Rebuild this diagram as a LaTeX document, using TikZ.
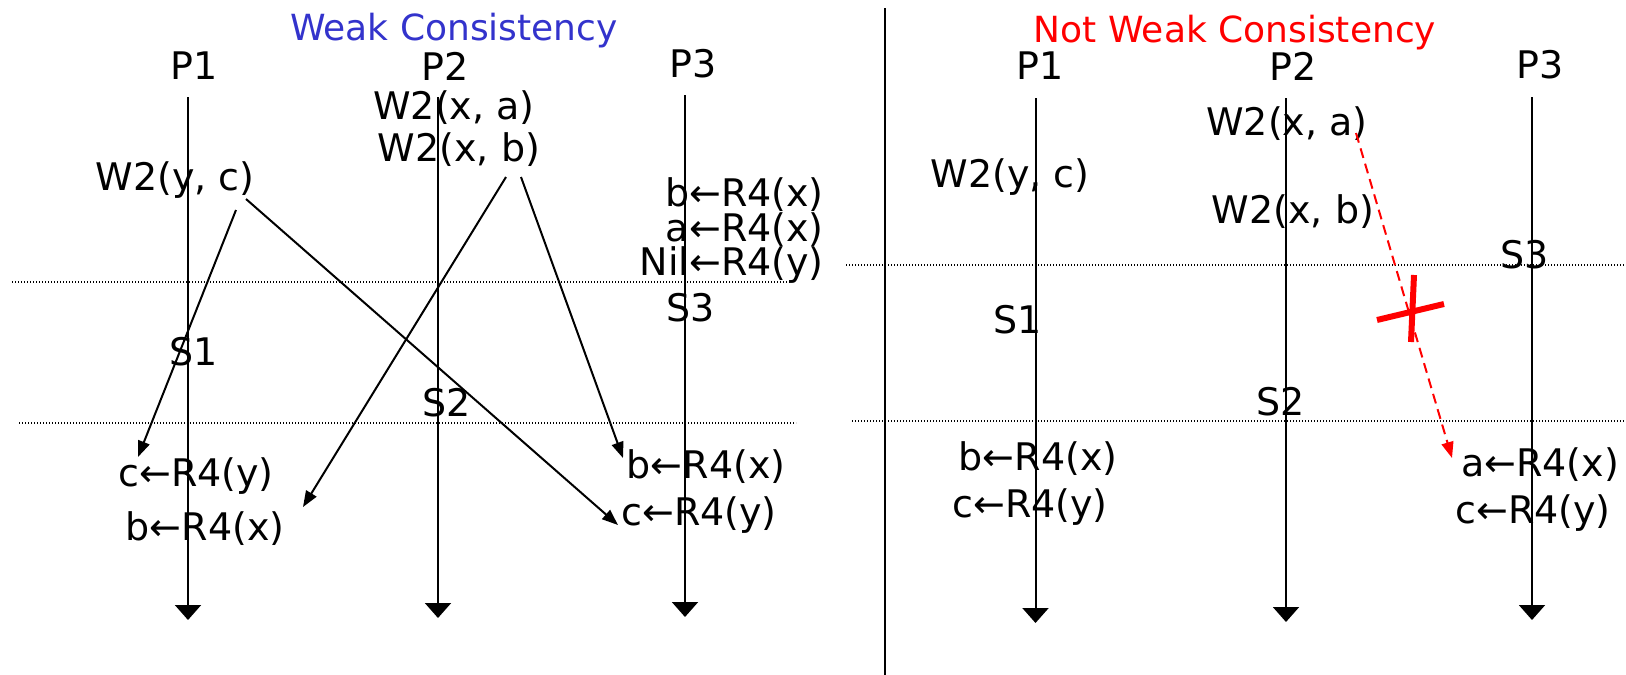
\documentclass[tikz,border=0pt]{standalone}
\usepackage{fontspec}
\setmainfont{DejaVu Sans}
\usetikzlibrary{arrows.meta}
\definecolor{ttlblue}{RGB}{51,51,204}
\begin{document}
\begin{tikzpicture}[x=1pt,y=-1pt,
  lbl/.style={inner sep=0pt, font=\fontsize{38}{40}\selectfont},
  stack/.style={inner sep=0pt, align=right, font=\fontsize{38}{33}\selectfont},
  ttl/.style={inner sep=0pt, font=\fontsize{36}{40}\selectfont},
  proc/.style={line width=2pt, -{Triangle[width=26pt,length=15pt]}},
  msg/.style={line width=2pt, -{Triangle[width=12pt,length=16pt]}},
  badmsg/.style={line width=2pt, red, dash pattern=on 10pt off 6pt, -{Triangle[width=12pt,length=16pt]}},
  sync/.style={line width=1.2pt, dash pattern=on 1.2pt off 1.8pt},
  cross/.style={line width=6pt, red},
  sep/.style={line width=1.5pt}]
\useasboundingbox (0,0) rectangle (1626,675);

% ---------- left panel ----------
\node[ttl, text=ttlblue] (t1) at (454,31) {Weak Consistency};
\node[lbl] (p1a) at (194,66) {P1};
\node[lbl] (p2a) at (445,66) {P2};
\node[lbl] (p3a) at (693,64) {P3};
\coordinate (l1top) at (188,97);  \coordinate (l1bot) at (188,620);
\coordinate (l2top) at (438,97);  \coordinate (l2bot) at (438,618);
\coordinate (l3top) at (685,95);  \coordinate (l3bot) at (685,617);
\draw[proc] (l1top) -- (l1bot);
\draw[proc] (l2top) -- (l2bot);
\draw[proc] (l3top) -- (l3bot);

\coordinate (d1a) at (12,282);  \coordinate (d1b) at (790,282);
\coordinate (d2a) at (19,423);  \coordinate (d2b) at (796,423);
\draw[sync] (d1a) -- (d1b);
\draw[sync] (d2a) -- (d2b);

\node[lbl] (wxa) at (454,108) {W2(x, a)};
\node[lbl] (wxb) at (459,150) {W2(x, b)};
\node[lbl] (wyc) at (175,180) {W2(y, c)};
\node[stack, anchor=south east] (reads3) at (824,284) {b←R4(x)\\a←R4(x)\\Nil←R4(y)};
\node[lbl] (s3a) at (691,308) {S3};
\node[lbl] (s1a) at (194,352) {S1};
\node[lbl] (s2a) at (447,403) {S2};
\node[lbl] (rc1) at (196,476) {c←R4(y)};
\node[lbl] (rb1) at (205,529) {b←R4(x)};
\node[lbl] (rb3b) at (706,467) {b←R4(x)};
\node[lbl] (rc3) at (699,515) {c←R4(y)};

\draw[msg] ([shift={(61,30)}]wyc.center) -- ([shift={(-58,-19)}]rc1.center);
\draw[msg] ([shift={(71,19)}]wyc.center) -- ([shift={(-81,10)}]rc3.center);
\draw[msg] ([shift={(47,27)}]wxb.center) -- ([shift={(98,-22)}]rb1.center);
\draw[msg] ([shift={(62,27)}]wxb.center) -- ([shift={(-83,-9)}]rb3b.center);

% ---------- separator ----------
\coordinate (septop) at (885,8); \coordinate (sepbot) at (885,675);
\draw[sep] (septop) -- (sepbot);

% ---------- right panel ----------
\node[ttl, text=red] (t2) at (1235,33) {Not Weak Consistency};
\node[lbl] (p1b) at (1040,66) {P1};
\node[lbl] (p2b) at (1293,66) {P2};
\node[lbl] (p3b) at (1540,65) {P3};
\coordinate (m1top) at (1035.5,98); \coordinate (m1bot) at (1035.5,623);
\coordinate (m2top) at (1286,98);   \coordinate (m2bot) at (1286,622);
\coordinate (m3top) at (1532,97);   \coordinate (m3bot) at (1532,620);
\draw[proc] (m1top) -- (m1bot);
\draw[proc] (m2top) -- (m2bot);
\draw[proc] (m3top) -- (m3bot);

\coordinate (e1a) at (846,265);  \coordinate (e1b) at (1626,265);
\coordinate (e2a) at (852,421);  \coordinate (e2b) at (1626,421);
\draw[sync] (e1a) -- (e1b);
\draw[sync] (e2a) -- (e2b);

\node[lbl] (wxa2) at (1287,124) {W2(x, a)};
\node[lbl] (wyc2) at (1010,177) {W2(y, c)};
\node[lbl] (wxb2) at (1293,212) {W2(x, b)};
\node[lbl] (s3b) at (1525,255) {S3};
\node[lbl] (s1b) at (1018,320) {S1};
\node[lbl] (s2b) at (1281,402) {S2};
\node[lbl] (rb1b) at (1038,459) {b←R4(x)};
\node[lbl] (rc1b) at (1030,507) {c←R4(y)};
\node[lbl] (ra3b) at (1540,465) {a←R4(x)};
\node[lbl] (rc3b) at (1533,513) {c←R4(y)};

\draw[badmsg] ([shift={(69,9)}]wxa2.center) -- ([shift={(-88,-7)}]ra3b.center);
\coordinate (xa) at (1377,320); \coordinate (xb) at (1444,304);
\coordinate (xc) at (1414,275); \coordinate (xd) at (1411,342);
\draw[cross] (xa) -- (xb);
\draw[cross] (xc) -- (xd);
\end{tikzpicture}
\end{document}
